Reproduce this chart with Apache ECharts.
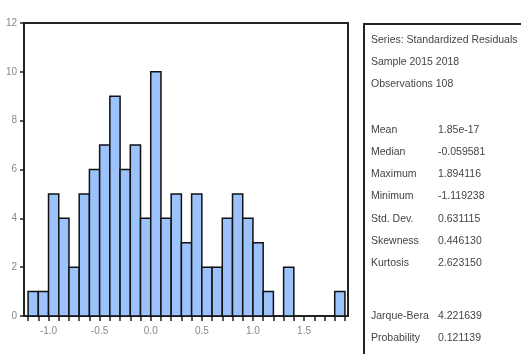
<!DOCTYPE html>
<html><head><meta charset="utf-8">
<script src="https://cdn.jsdelivr.net/npm/echarts@6/dist/echarts.min.js"></script>
<style>html,body{margin:0;padding:0;background:#fff}#c{width:521px;height:354px}</style>
</head><body><div id="c"></div>
<script>
const binEdges = [-1.2,-1.1,-1.0,-0.9,-0.8,-0.7,-0.6,-0.5,-0.4,-0.3,-0.2,-0.1,0.0,0.1,0.2,0.3,0.4,0.5,0.6,0.7,0.8,0.9,1.0,1.1,1.2,1.3,1.4,1.5,1.6,1.7,1.8,1.9];
const counts = [1,1,5,4,2,5,6,7,9,6,7,4,10,4,5,3,5,2,2,4,5,4,3,1,0,2,0,0,0,0,1];
const xTickLabels = [-1.0,-0.5,0.0,0.5,1.0,1.5];
const yTickLabels = [0,2,4,6,8,10,12];
const headerLines = ['Series: Standardized Residuals','Sample 2015 2018','Observations 108'];
const statNames = ['Mean','Median','Maximum','Minimum','Std. Dev.','Skewness','Kurtosis'];
const statValues = ['1.85e-17','-0.059581','1.894116','-1.119238','0.631115','0.446130','2.623150'];
const testNames = ['Jarque-Bera','Probability'];
const testValues = ['4.221639','0.121139'];

const histData = [];
for (let i = 0; i < counts.length; i++) {
  histData.push([binEdges[i], binEdges[i+1], counts[i]]);
}
const FONT = '"Liberation Sans", Arial, sans-serif';
const TXT = '#444';
const graphics = [{
  type:'rect', left:363, top:23, z:1,
  shape:{x:0,y:0,width:200,height:400},
  style:{fill:'#fff', stroke:'#222', lineWidth:2}
}];
const lx = 371, vx = 438;
const hy = [40, 62, 84];
headerLines.forEach((t,i)=>graphics.push({type:'text', x:lx, y:hy[i], z:2,
  style:{text:t, fill:TXT, font:'10.5px '+FONT, textVerticalAlign:'middle'}}));
statNames.forEach((t,i)=>{
  const y = 130 + i*22.2;
  graphics.push({type:'text', x:lx, y:y, z:2, style:{text:t, fill:TXT, font:'10.5px '+FONT, textVerticalAlign:'middle'}});
  graphics.push({type:'text', x:vx, y:y, z:2, style:{text:statValues[i], fill:TXT, font:'10.5px '+FONT, textVerticalAlign:'middle'}});
});
testNames.forEach((t,i)=>{
  const y = 316 + i*22.2;
  graphics.push({type:'text', x:lx, y:y, z:2, style:{text:t, fill:TXT, font:'10.5px '+FONT, textVerticalAlign:'middle'}});
  graphics.push({type:'text', x:vx, y:y, z:2, style:{text:testValues[i], fill:TXT, font:'10.5px '+FONT, textVerticalAlign:'middle'}});
});

const chart = echarts.init(document.getElementById('c'), null, {renderer:'canvas'});
chart.setOption({
  animation:false,
  backgroundColor:'#fff',
  grid:{left:24, right:173, top:23, bottom:38, show:true, borderColor:'#222', borderWidth:2, backgroundColor:'transparent'},
  xAxis:{
    type:'value', min:-1.24, max:1.93,
    splitLine:{show:false},
    axisLine:{show:true, onZero:false, lineStyle:{color:'#222', width:2}},
    axisTick:{show:true, inside:false, length:5, lineStyle:{color:'#222', width:1.5},
      customValues: binEdges},
    axisLabel:{customValues: xTickLabels, formatter:v=>(Math.abs(v)<1e-9?0:v).toFixed(1),
      color:'#888', fontSize:10, fontFamily:FONT, margin:10}
  },
  yAxis:{
    type:'value', min:0, max:12, interval:2,
    splitLine:{show:false},
    axisLine:{show:true, onZero:false, lineStyle:{color:'#222', width:2}},
    axisTick:{show:true, inside:false, length:4, lineStyle:{color:'#222', width:1.5}},
    axisLabel:{customValues: yTickLabels, color:'#888', fontSize:10, fontFamily:FONT, margin:7, padding:[0,0,5,0]}
  },
  series:[{
    type:'custom',
    encode:{x:[0,1], y:2},
    data:histData,
    renderItem:function(params, api){
      const x0 = api.value(0), x1 = api.value(1), c = api.value(2);
      if (!c) return null;
      const p0 = api.coord([x0, c]);
      const p1 = api.coord([x1, 0]);
      return {type:'rect', shape:{x:p0[0], y:p0[1], width:p1[0]-p0[0], height:p1[1]-p0[1]},
        style:{fill:'#9cc2fc', stroke:'#111', lineWidth:1.5}};
    }
  }],
  graphic:graphics
});
</script></body></html>
